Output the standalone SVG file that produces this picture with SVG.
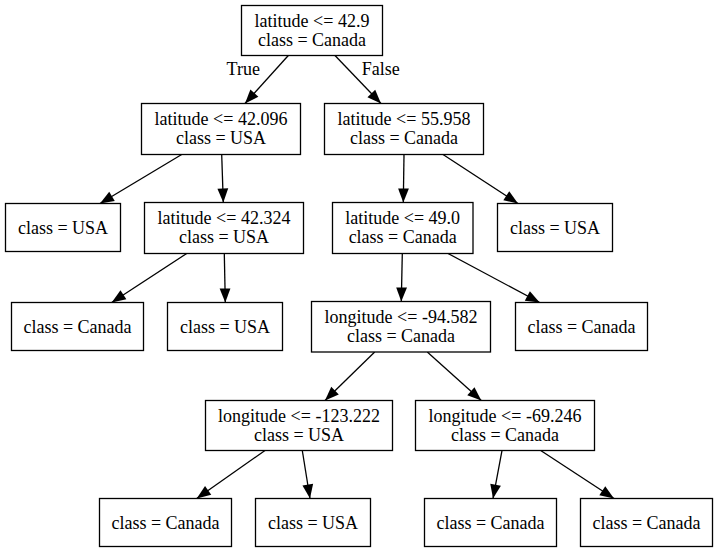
<svg xmlns="http://www.w3.org/2000/svg" width="718" height="552" viewBox="0 0 718 552">
<style>
.n rect{fill:#fff;stroke:#000;stroke-width:1.3}
text{font-family:"Liberation Serif","Times New Roman",serif;font-size:18px;fill:#000;text-anchor:middle}
.e line{stroke:#000;stroke-width:1.3;marker-end:url(#arr)}
</style>
<defs>
<marker id="arr" markerUnits="userSpaceOnUse" viewBox="0 0 14 10.8" markerWidth="14" markerHeight="10.8" refX="14" refY="5.4" orient="auto" overflow="visible">
<path d="M0,0 L14,5.4 L0,10.8 z" fill="#000"/>
</marker>
</defs>
<rect width="718" height="552" fill="#fff"/>
<g class="e" id="edges">
<line x1="288.3" y1="55.5" x2="245" y2="103.5"/>
<line x1="335" y1="55.5" x2="381" y2="103.5"/>
<line x1="181.7" y1="154.5" x2="100" y2="203.5"/>
<line x1="221.7" y1="154.5" x2="223.3" y2="202.5"/>
<line x1="404" y1="154.5" x2="403.3" y2="202.5"/>
<line x1="443" y1="154.5" x2="518" y2="203.5"/>
<line x1="186.7" y1="253.5" x2="111.7" y2="302.5"/>
<line x1="224.3" y1="253.5" x2="225.3" y2="302.5"/>
<line x1="402.3" y1="253.5" x2="401.3" y2="301.5"/>
<line x1="448" y1="253.5" x2="539.7" y2="302.5"/>
<line x1="374.7" y1="352" x2="325" y2="400.5"/>
<line x1="427.3" y1="352" x2="481.3" y2="400.5"/>
<line x1="265" y1="450.5" x2="196.7" y2="498.5"/>
<line x1="302.3" y1="450.5" x2="310" y2="498.5"/>
<line x1="502" y1="450.5" x2="493" y2="498.5"/>
<line x1="540.7" y1="450.5" x2="614" y2="498.5"/>
</g>
<g id="edge-labels">
<text x="243.3" y="75">True</text>
<text x="380.8" y="75">False</text>
</g>
<g class="n" id="node0"><rect x="241.5" y="5.5" width="141" height="50"/><text x="312" y="27.3">latitude &lt;= 42.9</text><text x="312" y="46.3">class = Canada</text></g>
<g class="n" id="node1"><rect x="141.5" y="103.5" width="159" height="51"/><text x="221" y="125.3">latitude &lt;= 42.096</text><text x="221" y="144.3">class = USA</text></g>
<g class="n" id="node2"><rect x="324.5" y="103.5" width="159" height="51"/><text x="404" y="125.3">latitude &lt;= 55.958</text><text x="404" y="144.3">class = Canada</text></g>
<g class="n" id="node3"><rect x="5.5" y="203.5" width="115" height="48"/><text x="63" y="233.5">class = USA</text></g>
<g class="n" id="node4"><rect x="144.5" y="202.5" width="159" height="51"/><text x="224" y="224.3">latitude &lt;= 42.324</text><text x="224" y="243.3">class = USA</text></g>
<g class="n" id="node5"><rect x="332.5" y="202.5" width="140.5" height="51"/><text x="402.7" y="224.3">latitude &lt;= 49.0</text><text x="402.7" y="243.3">class = Canada</text></g>
<g class="n" id="node6"><rect x="497.5" y="203.5" width="115" height="48"/><text x="555" y="233.5">class = USA</text></g>
<g class="n" id="node7"><rect x="11.5" y="302.5" width="132" height="48"/><text x="77.5" y="332.5">class = Canada</text></g>
<g class="n" id="node8"><rect x="167.5" y="302.5" width="115" height="48"/><text x="225" y="332.5">class = USA</text></g>
<g class="n" id="node9"><rect x="311.5" y="301.5" width="179" height="50.5"/><text x="401" y="323.3">longitude &lt;= -94.582</text><text x="401" y="342.3">class = Canada</text></g>
<g class="n" id="node10"><rect x="515.5" y="302.5" width="132" height="48"/><text x="581.5" y="332.5">class = Canada</text></g>
<g class="n" id="node11"><rect x="205.5" y="400.5" width="187" height="50"/><text x="299" y="422.3">longitude &lt;= -123.222</text><text x="299" y="441.3">class = USA</text></g>
<g class="n" id="node12"><rect x="415.5" y="400.5" width="179" height="50"/><text x="505" y="422.3">longitude &lt;= -69.246</text><text x="505" y="441.3">class = Canada</text></g>
<g class="n" id="node13"><rect x="99.5" y="498.5" width="132" height="48"/><text x="165.5" y="528.5">class = Canada</text></g>
<g class="n" id="node14"><rect x="255.5" y="498.5" width="115" height="48"/><text x="313" y="528.5">class = USA</text></g>
<g class="n" id="node15"><rect x="424.5" y="498.5" width="132" height="48"/><text x="490.5" y="528.5">class = Canada</text></g>
<g class="n" id="node16"><rect x="580.5" y="498.5" width="132" height="48"/><text x="646.5" y="528.5">class = Canada</text></g>
</svg>
